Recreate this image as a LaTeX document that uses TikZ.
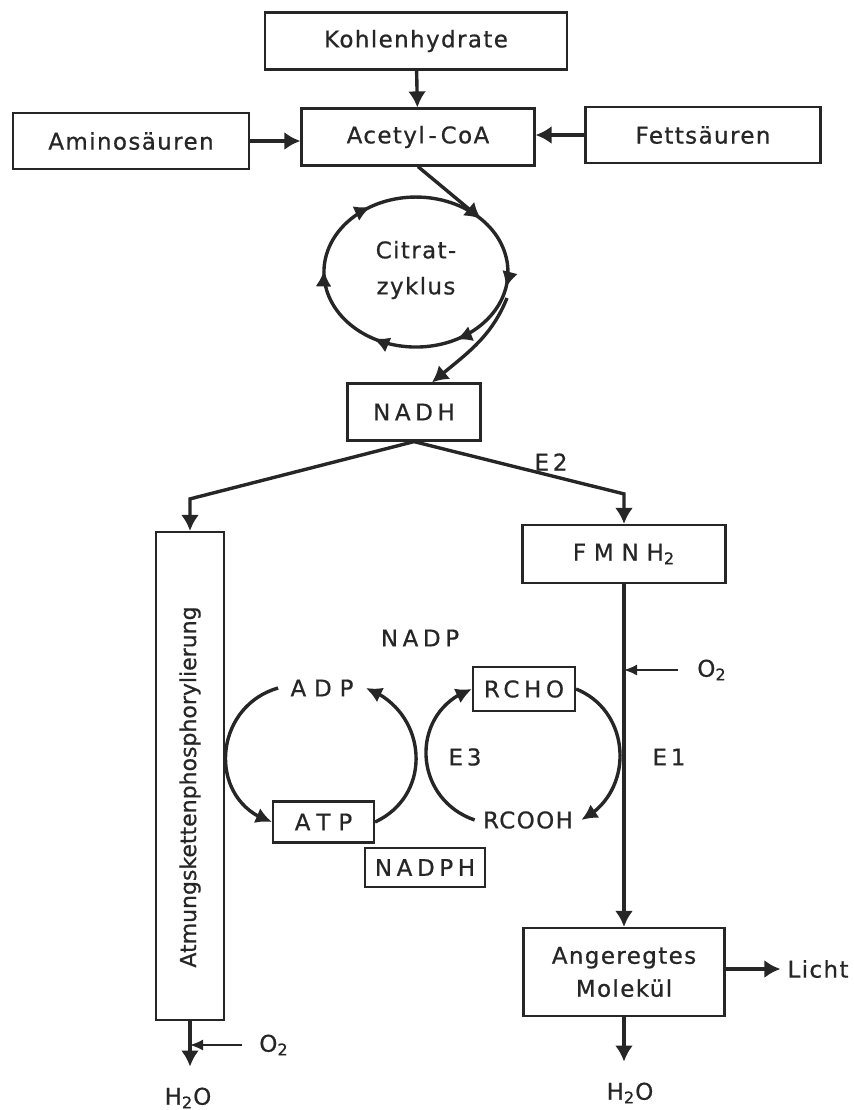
\documentclass[tikz,border=0pt]{standalone}
\usepackage{fontspec}
\setmainfont{DejaVu Sans}[LetterSpace=6,FakeBold=0.7]
\newfontfamily\capsfont{DejaVu Sans}[LetterSpace=20,FakeBold=0.7]
\newfontfamily\widefont{DejaVu Sans}[LetterSpace=34,FakeBold=0.7]
\newfontfamily\tightfont{DejaVu Sans}[FakeBold=0.7]
\newcommand\basefont{\fontsize{11.5pt}{14pt}\selectfont}
\usetikzlibrary{arrows.meta,bending,decorations.markings}
\begin{document}
\begin{tikzpicture}[x=0.5pt,y=-0.5pt,font=\basefont,
	every node/.style={text=black!85},
	box/.style={draw=black!85,line width=1.1pt,inner sep=0pt},
	caps/.style={font=\basefont\capsfont},
	wide/.style={font=\basefont\widefont},
	flow/.style={draw=black!85,line width=1.7pt,-{Latex[length=8pt,width=9pt]}},
	thinflow/.style={draw=black!85,line width=0.8pt,-{Latex[length=6.5pt,width=5.5pt]}},
	turn/.style={draw=black!85,line width=1.7pt,-{Latex[length=8pt,width=8pt]}},
	cyclemarks/.style={decoration={markings,
		mark=at position 0.147 with {\arrow{Latex[length=8pt,width=8pt]}},
		mark=at position 0.289 with {\arrow{Latex[length=8pt,width=8pt]}},
		mark=at position 0.45 with {\arrow{Latex[length=8pt,width=8pt]}},
		mark=at position 0.62 with {\arrow{Latex[length=8pt,width=8pt]}},
		mark=at position 0.778 with {\arrow{Latex[length=8pt,width=8pt]}}},
		postaction=decorate}]
	\useasboundingbox (0,0) rectangle (854,1110);

	\node[box,minimum width=151pt,minimum height=28.5pt] (kohlen) at (416,41) {Kohlenhydrate};
	\node[box,minimum width=118pt,minimum height=28pt] (amino) at (131,141) {Aminosäuren};
	\node[box,minimum width=116.5pt,minimum height=28.5pt] (acetyl) at (418,137) {Acetyl\,-\,CoA};
	\node[box,minimum width=117.5pt,minimum height=28pt] (fett) at (703,135) {Fettsäuren};
	\draw[flow] (kohlen) -- (acetyl);
	\draw[flow] (amino.east) -- (amino.east -| acetyl.west);
	\draw[flow] (fett.west) -- (fett.west -| acetyl.east);

	\coordinate (cz) at (416,272);
	\coordinate (cin) at (481,219);
	\coordinate (cout) at (507,298);
	\node[align=center] (citrat) at (416,270) {Citrat-\\[4pt]zyklus};
	\draw[draw=black!85,line width=1.7pt,cyclemarks] (cin)
		arc[start angle=-45,end angle=315,x radius=92,y radius=75];
	\draw[flow] (acetyl.south) -- (cin);

	\node[box,caps,minimum width=66.5pt,minimum height=28.5pt] (nadh) at (414,412) {NADH};
	\draw[flow] (cout) to[out=-112,in=40] ([xshift=9pt]nadh.north);

	\node[box,minimum width=34pt,minimum height=244pt] (atmung) at (190,776) {};
	\node[rotate=90,font=\fontsize{11pt}{13pt}\tightfont] (atmungtext) at (190,787) {Atmungskettenphosphorylierung};
	\node[box,wide,minimum width=101.5pt,minimum height=29pt] (fmnh) at (624,554) {FMNH\textsubscript{2}};
	\draw[flow] (nadh.south) -- ([yshift=16pt]atmung.north) -- (atmung.north);
	\draw[flow] (nadh.south) -- ([yshift=15pt]fmnh.north) -- (fmnh.north);
	\node (e2) at (551,462) {E\,2};

	\node[caps] (nadp) at (420,638) {NADP};
	\node[wide,inner xsep=6pt] (adp) at (322,688) {ADP};
	\node[box,wide,minimum width=50.5pt,minimum height=20.5pt] (atp) at (323.5,822) {ATP};
	\node[box,caps,minimum width=51pt,minimum height=22pt] (rcho) at (524,689) {RCHO};
	\node[inner xsep=4pt] (rcooh) at (528,820) {RCOOH};
	\node[box,caps,minimum width=60pt,minimum height=19.5pt] (nadph) at (425,867.5) {NADPH};
	\node (e3) at (465,757) {E\,3};
	\node (e1) at (669,757) {E\,1};
	\draw[turn] (adp.west) to[out=196,in=163,looseness=1.31] (atp.west);
	\draw[turn] (atp.east) to[out=25,in=340,looseness=1.25] (adp.east);
	\draw[turn] (rcooh.west) to[out=161,in=199,looseness=1.3] (rcho.west);
	\draw[turn] (rcho.east) to[out=338,in=27,looseness=1.18] (rcooh.east);

	\node[box,align=center,minimum width=100.5pt,minimum height=44pt] (angeregt) at (624,972) {Angeregtes\\[2.5pt]Molekül};
	\draw[draw=black!85,line width=1.6pt,-{Latex[length=8pt,width=9pt]}] (fmnh.south) -- (angeregt.north);
	\node (o2r) at (712,670) {O\textsubscript{2}};
	\draw[thinflow] ([xshift=-6pt]o2r.west) -- (o2r.west -| fmnh.south);

	\node (licht) at (818,969) {Licht};
	\draw[flow] (angeregt.east |- licht) -- (licht.west);
	\node (h2or) at (630,1093) {H\textsubscript{2}O};
	\draw[flow,shorten >=7pt] (angeregt.south) -- (angeregt.south |- h2or.north);

	\node (h2ol) at (188,1098) {H\textsubscript{2}O};
	\node (o2l) at (274,1045) {O\textsubscript{2}};
	\draw[flow,shorten >=7pt] (atmung.south) -- (atmung.south |- h2ol.north);
	\draw[thinflow] ([xshift=-5pt]o2l.west) -- (o2l.west -| atmung.south);
\end{tikzpicture}
\end{document}
